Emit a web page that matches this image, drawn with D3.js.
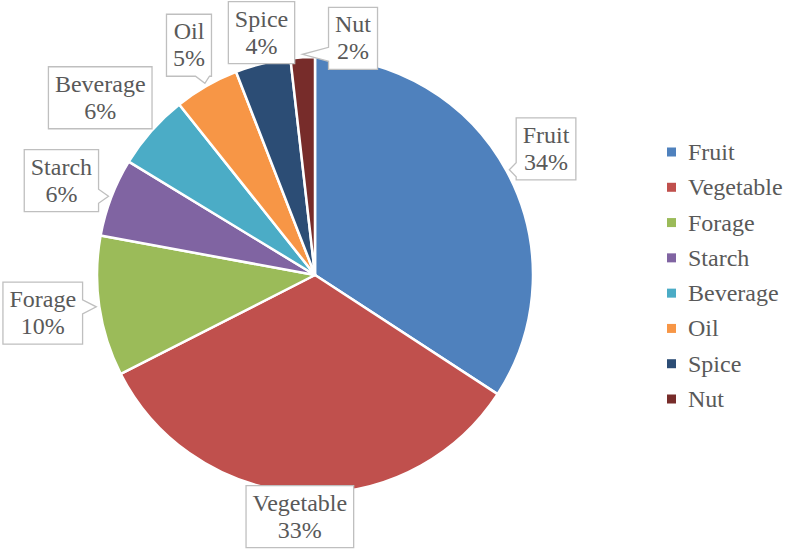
<!DOCTYPE html>
<html>
<head>
<meta charset="utf-8">
<script src="https://cdn.jsdelivr.net/npm/d3@7"></script>
<style>
  body { margin: 0; background: #fff; }
</style>
</head>
<body>
<svg id="chart"></svg>
<script>
const categories = ['Fruit', 'Vegetable', 'Forage', 'Starch', 'Beverage', 'Oil', 'Spice', 'Nut']
const shares     = [34.2, 33.3, 10.4, 5.8, 5.6, 4.8, 4.1, 1.8]
const pctLabels  = ['34%', '33%', '10%', '6%', '6%', '5%', '4%', '2%']
const colors     = ['#4f81bd', '#c0504d', '#9bbb59', '#8064a2', '#4bacc6', '#f79646', '#2c4d75', '#772c2a']

// nudges for the callouts, like excel's "best fit"
const labelNudge = [[-2, 0], [-1, -23], [-10, 0], [-6, 0], [-16, -2], [6, 0], [10, 15], [53, 28]]

const width = 787, height = 551
const cx = 315, cy = 275, radius = 218
const fontSize = 24
const fontFamily = 'Liberation Serif, Times New Roman, serif'
const textColor = '#595959'

const svg = d3.select('#chart')
    .attr('width', width)
    .attr('height', height)
    .attr('font-family', fontFamily)

const dataset = categories.map((c, i) => ({ label: c, value: shares[i], pct: pctLabels[i], color: colors[i], nudge: labelNudge[i] }))

const pie = d3.pie()
    .value(d => d.value)
    .sort(null)

const arc = d3.arc()
    .innerRadius(0)
    .outerRadius(radius)

const labelArc = d3.arc()
    .innerRadius(265)
    .outerRadius(265)

const tipArc = d3.arc()
    .innerRadius(radius + 3)
    .outerRadius(radius + 3)

const g = svg.append('g')
    .attr('transform', 'translate(' + cx + ',' + cy + ')')

const arcs = pie(dataset)

g.selectAll('path.slice')
    .data(arcs)
    .enter()
    .append('path')
    .attr('class', 'slice')
    .attr('d', arc)
    .attr('fill', d => d.data.color)
    .attr('stroke', '#fff')
    .attr('stroke-width', 2.5)
    .attr('stroke-linejoin', 'round')

// callout box with a little tail pointing at the slice
const calloutPath = (x0, y0, x1, y1, tx, ty) => {
    const hw = 7
    const clamp = (v, a, b) => Math.max(a + 2, Math.min(b - 2, v))
    let side = null
    if (tx < x0 - 3) side = 'left'
    else if (tx > x1 + 3) side = 'right'
    else if (ty < y0 - 3) side = 'top'
    else if (ty > y1 + 3) side = 'bottom'
    const p = []
    p.push([x0, y0])
    if (side === 'top') {
        const c = clamp(tx, x0 + hw, x1 - hw)
        p.push([c - hw, y0], [tx, ty], [c + hw, y0])
    }
    p.push([x1, y0])
    if (side === 'right') {
        const c = clamp(ty, y0 + hw, y1 - hw)
        p.push([x1, c - hw], [tx, ty], [x1, c + hw])
    }
    p.push([x1, y1])
    if (side === 'bottom') {
        const c = clamp(tx, x0 + hw, x1 - hw)
        p.push([c + hw, y1], [tx, ty], [c - hw, y1])
    }
    p.push([x0, y1])
    if (side === 'left') {
        const c = clamp(ty, y0 + hw, y1 - hw)
        p.push([x0, c + hw], [tx, ty], [x0, c - hw])
    }
    return 'M' + p.map(q => q.join(',')).join('L') + 'Z'
}

const labels = g.selectAll('g.label')
    .data(arcs)
    .enter()
    .append('g')
    .attr('class', 'label')

labels.each(function (d) {
    const sel = d3.select(this)
    const [lx0, ly0] = labelArc.centroid(d)
    const lx = lx0 + d.data.nudge[0], ly = ly0 + d.data.nudge[1]
    const [tx, ty] = tipArc.centroid(d)

    const box = sel.append('path')
    const t1 = sel.append('text')
        .attr('x', lx).attr('y', ly - 6)
        .attr('text-anchor', 'middle')
        .attr('font-size', fontSize)
        .attr('fill', textColor)
        .text(d.data.label)
    const t2 = sel.append('text')
        .attr('x', lx).attr('y', ly + 21)
        .attr('text-anchor', 'middle')
        .attr('font-size', fontSize)
        .attr('fill', textColor)
        .text(d.data.pct)

    const w = Math.max(t1.node().getComputedTextLength(), t2.node().getComputedTextLength()) + 13
    const h = 62
    const x0 = lx - w / 2, x1 = lx + w / 2, y0 = ly - h / 2, y1 = ly + h / 2
    box.attr('d', calloutPath(x0, y0, x1, y1, tx, ty))
        .attr('fill', '#fff')
        .attr('stroke', '#bfbfbf')
        .attr('stroke-width', 1.3)
})

// legend
const legend = svg.append('g')
    .attr('transform', 'translate(667,152)')

const legendY = d3.scalePoint()
    .domain(categories)
    .range([0, 247])

const items = legend.selectAll('g')
    .data(dataset)
    .enter()
    .append('g')
    .attr('transform', d => 'translate(0,' + legendY(d.label) + ')')

items.append('rect')
    .attr('x', 0).attr('y', -4.5)
    .attr('width', 9).attr('height', 9)
    .attr('fill', d => d.color)

items.append('text')
    .attr('x', 21).attr('y', 8)
    .attr('font-size', fontSize)
    .attr('fill', textColor)
    .text(d => d.label)
</script>
</body>
</html>
